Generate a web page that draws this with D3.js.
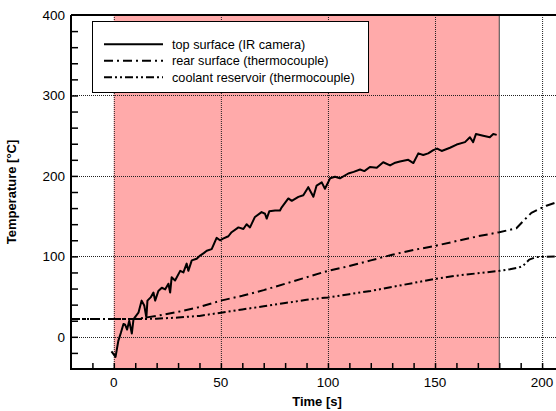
<!DOCTYPE html>
<html>
<head>
  <script type="text/javascript" src="https://cdn.jsdelivr.net/npm/d3@7"></script>
  <title>Temperature</title>
  <style>
    body { margin: 0; background: #fff; }
    svg { display: block; font-family: "Liberation Sans", Arial, sans-serif; }
  </style>
</head>
<body>
<svg width="556" height="411"></svg>
<script>
  // top surface (IR camera)
  var topTime = [-1.1, 0.8, 2.1, 3.3, 4.5, 5.3, 6.2, 7.2, 8.4, 9.2, 11.5, 13, 14.2, 15.2, 15.7, 17.2, 18.5, 19.3,
    20.8, 22.4, 24, 25.5, 26.3, 27, 28.6, 31, 32.5, 34, 34.8, 36.4, 38.7, 40.3, 42, 43.4, 45.7, 48, 49.6, 51,
    53.5, 55, 58.2, 60.5, 62, 63.6, 65.9, 69, 70.6, 71.4, 72.6, 75.3, 77.6, 78.4, 81.5, 83.1, 86.2, 88.5, 90.8,
    93.2, 94.7, 97.1, 98.6, 101, 103.3, 105.6, 109.5, 112, 115, 117, 119.6, 122.8, 125.8, 129, 131, 133.6,
    137.5, 139.9, 142.2, 144.5, 146.8, 149.2, 151, 153.1, 157, 160.1, 164, 166.3, 167.8, 169.1, 172.5, 175.6,
    177.2, 178.8];
  var topTemp = [-18, -25, -5, 5, 16, 15, 9, 20, 4, 22, 30, 45, 39, 24, 45, 49, 55, 45,
    57, 61, 59, 66, 55, 74, 70, 82, 80, 91, 82, 95, 97, 101, 104, 107, 109, 123, 120, 122,
    125, 130, 136, 134, 140, 136, 149, 155, 153, 147, 156, 157, 157, 161, 172, 169, 174, 176, 186,
    174, 188, 192, 184, 197, 199, 197, 203, 205, 208, 206, 211, 210, 217, 213, 216, 218,
    220, 216, 228, 226, 228, 232, 234, 231, 235, 239, 242, 248, 242, 252, 250, 248,
    252, 251];

  // rear surface (thermocouple)
  var rearTime = [-20, 0, 10, 15, 20, 30, 40, 50, 60, 70, 80, 90, 100, 110, 120, 130, 140, 150, 160, 170, 180,
    185, 188, 192, 195, 198, 202, 206.5];
  var rearTemp = [22, 22, 22, 24, 26, 31, 37, 45, 51, 58, 66, 74, 82, 88, 95, 102, 108, 113, 119, 125, 130,
    133, 135, 146, 154, 158, 163, 167];

  // coolant reservoir (thermocouple)
  var coolTime = [-20, 0, 10, 20, 30, 40, 50, 60, 70, 80, 90, 100, 110, 120, 130, 140, 150, 160, 170, 180,
    185, 189, 191, 194, 197, 206.5];
  var coolTemp = [22, 22, 22, 22.5, 24, 26, 30, 34, 38, 42, 46, 49, 53, 57, 62, 67, 72, 76, 79, 82,
    84, 86, 88, 96, 99, 100];

  var legendLabels = ["top surface (IR camera)", "rear surface (thermocouple)", "coolant reservoir (thermocouple)"];
  var xTicks = [0, 50, 100, 150, 200];
  var yTicks = [0, 100, 200, 300, 400];
  var heatStart = 0, heatEnd = 180;

  var svg = d3.select("svg");
  var x = d3.scaleLinear().domain([-20, 206.5]).range([71, 556]);
  var y = d3.scaleLinear().domain([-40, 400]).range([369, 15]);

  // heated interval
  svg.append("rect")
      .attr("x", x(heatStart))
      .attr("y", y(400))
      .attr("width", x(heatEnd) - x(heatStart))
      .attr("height", y(-40) - y(400))
      .attr("fill", "#ffaaaa");
  svg.append("line")
      .attr("x1", x(heatEnd)).attr("x2", x(heatEnd))
      .attr("y1", y(400)).attr("y2", y(-40))
      .attr("stroke", "#444").attr("stroke-width", 1);

  // grid
  var grid = svg.append("g").attr("stroke", "#222").attr("stroke-width", 1).attr("stroke-dasharray", "1,1");
  grid.selectAll(".gx").data(xTicks).enter().append("line")
      .attr("x1", function(d) { return x(d) + 0.5; })
      .attr("x2", function(d) { return x(d) + 0.5; })
      .attr("y1", y(400)).attr("y2", y(-40));
  grid.selectAll(".gy").data(yTicks.slice(0, 4)).enter().append("line")
      .attr("y1", function(d) { return Math.round(y(d)) + 0.5; })
      .attr("y2", function(d) { return Math.round(y(d)) + 0.5; })
      .attr("x1", x(-20)).attr("x2", 556);

  // axes (ticks pointing inward)
  var xAxis = d3.axisTop(x).tickValues(d3.range(-10, 206, 10)).tickSize(6).tickFormat("");
  svg.append("g").attr("transform", "translate(0," + y(-40) + ")").call(xAxis)
      .call(function(g) { g.select(".domain").remove(); })
      .selectAll("line").attr("stroke", "#000").attr("stroke-width", 1.5);
  var yAxis = d3.axisRight(y).tickValues(d3.range(-20, 400, 20)).tickSize(7).tickFormat("");
  svg.append("g").attr("transform", "translate(" + x(-20) + ",0)").call(yAxis)
      .call(function(g) { g.select(".domain").remove(); })
      .selectAll("line").attr("stroke", "#000").attr("stroke-width", 1.5);

  svg.append("path")
      .attr("d", ["M", x(-20), y(400), "L", x(-20), y(-40), "L", 556, y(-40)].join(" "))
      .attr("fill", "none").attr("stroke", "#000").attr("stroke-width", 2);
  svg.append("line")
      .attr("x1", x(-20)).attr("x2", 556).attr("y1", y(400)).attr("y2", y(400))
      .attr("stroke", "#000").attr("stroke-width", 2);

  svg.selectAll(".xl").data(xTicks).enter().append("text")
      .attr("x", function(d) { return x(d); })
      .attr("y", 387)
      .attr("text-anchor", "middle")
      .attr("font-size", "13.5px")
      .text(function(d) { return d; });
  svg.selectAll(".yl").data(yTicks).enter().append("text")
      .attr("x", 65)
      .attr("y", function(d) { return y(d) + 5; })
      .attr("text-anchor", "end")
      .attr("font-size", "13.5px")
      .text(function(d) { return d; });

  svg.append("text")
      .attr("x", 317).attr("y", 406)
      .attr("text-anchor", "middle")
      .attr("font-size", "13px").attr("font-weight", "bold")
      .text("Time [s]");
  svg.append("text")
      .attr("transform", "translate(16," + 192 + ") rotate(-90)")
      .attr("text-anchor", "middle")
      .attr("font-size", "13px").attr("font-weight", "bold")
      .text("Temperature [°C]");

  // curves
  var line = d3.line()
      .x(function(d) { return x(d[0]); })
      .y(function(d) { return y(d[1]); });
  var dashes = [null, "9,4,2,4", "8,3,2,3,2,3"];
  var series = [d3.zip(topTime, topTemp), d3.zip(rearTime, rearTemp), d3.zip(coolTime, coolTemp)];
  var plot = svg.append("g");
  series.forEach(function(s, i) {
    plot.append("path")
        .attr("d", line(s))
        .attr("fill", "none")
        .attr("stroke", "#000")
        .attr("stroke-width", 2)
        .attr("stroke-linejoin", "round")
        .attr("stroke-dasharray", dashes[i]);
  });

  // legend
  var legend = svg.append("g");
  legend.append("rect")
      .attr("x", 92.5).attr("y", 21.5)
      .attr("width", 276).attr("height", 71)
      .attr("fill", "#fff").attr("stroke", "#000").attr("stroke-width", 1);
  legendLabels.forEach(function(label, i) {
    var cy = 44.3 + i * 16.5;
    legend.append("line")
        .attr("x1", 104).attr("x2", 163)
        .attr("y1", cy).attr("y2", cy)
        .attr("stroke", "#000").attr("stroke-width", 2)
        .attr("stroke-dasharray", dashes[i]);
    legend.append("text")
        .attr("x", 172).attr("y", cy + 4.5)
        .attr("font-size", "12.7px")
        .text(label);
  });
</script>
</body>
</html>
